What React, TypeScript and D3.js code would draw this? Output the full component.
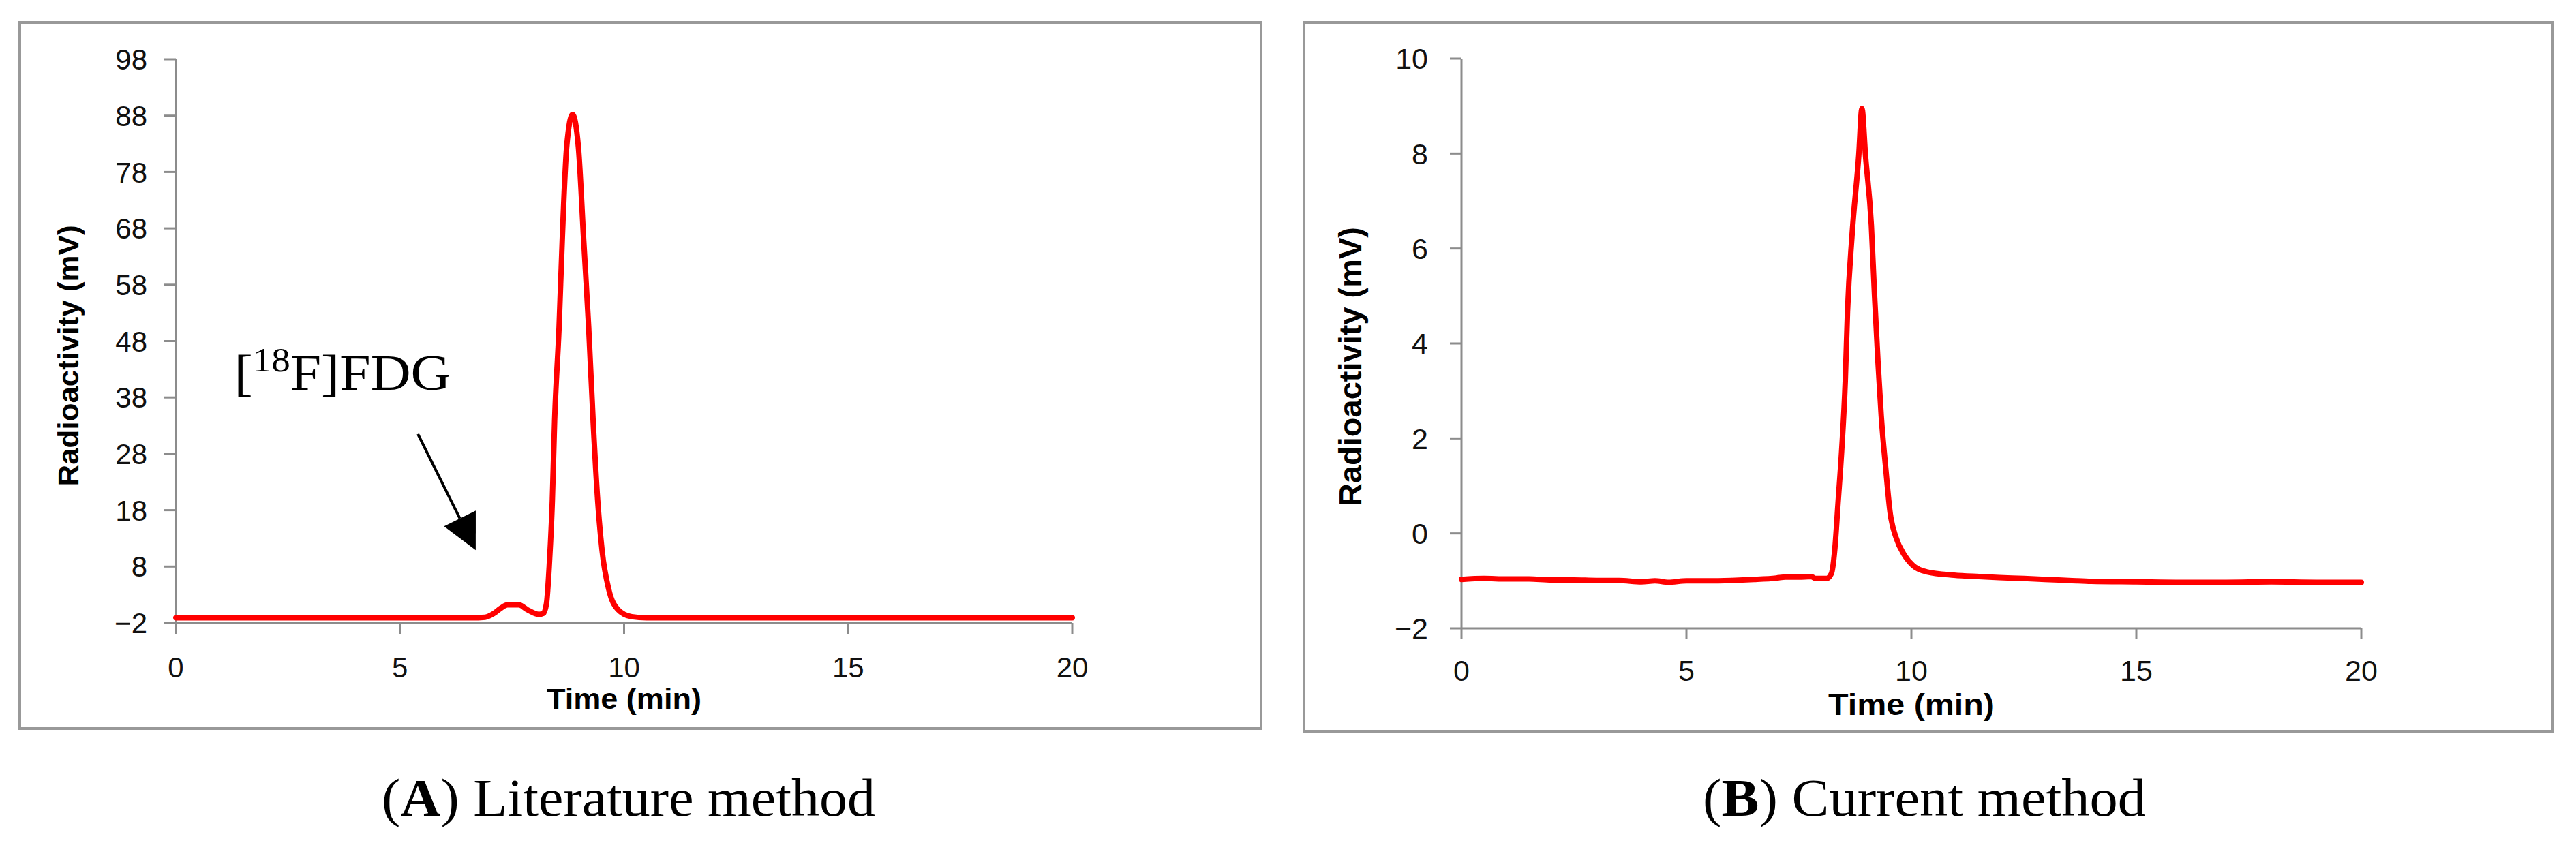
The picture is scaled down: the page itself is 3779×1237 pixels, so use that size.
import React from "react";
import * as d3 from "d3";

const W = 3779;
const H = 1237;

// (A) literature method, time in min, signal in mV
const timeA = [0, 6.6, 6.9, 7.1, 7.25, 7.4, 7.65, 7.85, 8.1, 8.2, 8.27, 8.33, 8.4, 8.45, 8.55, 8.62, 8.72, 8.85, 8.98, 9.1, 9.21, 9.31, 9.41, 9.51, 9.66, 9.86, 10.17, 10.5, 20];
const signalA = [-1.1, -1.1, -1.0, -0.3, 0.6, 1.2, 1.2, 0.3, -0.5, -0.3, 1.5, 8, 19.9, 33.8, 50.5, 65.8, 82.5, 88.2, 82.5, 65.8, 50.5, 33.8, 19.9, 10.8, 3.9, 0.4, -0.9, -1.1, -1.1];

// (B) current method
const timeB = [0, 0.5, 1, 1.5, 2, 2.5, 3, 3.5, 4, 4.3, 4.6, 5, 5.5, 6, 6.5, 7, 7.2, 7.5, 7.77, 7.87, 8.12, 8.22, 8.3, 8.37, 8.45, 8.53, 8.58, 8.68, 8.83, 8.9, 8.98, 9.11, 9.18, 9.26, 9.33, 9.43, 9.53, 9.66, 9.84, 10.04, 10.34, 10.95, 11.5, 11.95, 12.5, 12.97, 13.5, 14, 15, 16, 17, 18, 19, 20];
const signalB = [-0.97, -0.95, -0.96, -0.96, -0.98, -0.98, -0.99, -0.99, -1.02, -1.0, -1.03, -1.0, -1.0, -0.99, -0.97, -0.94, -0.92, -0.92, -0.91, -0.95, -0.95, -0.85, -0.31, 0.64, 1.74, 3.2, 4.67, 6.27, 7.96, 8.95, 7.96, 6.49, 5.03, 3.57, 2.47, 1.37, 0.42, -0.09, -0.45, -0.68, -0.81, -0.88, -0.91, -0.93, -0.95, -0.97, -0.99, -1.01, -1.02, -1.03, -1.03, -1.02, -1.03, -1.03];

const xTicks = [0, 5, 10, 15, 20];
const yTicksA = [-2, 8, 18, 28, 38, 48, 58, 68, 78, 88, 98];
const yTicksB = [-2, 0, 2, 4, 6, 8, 10];

// arrow pointing at the small [18F]FDG bump, in data units of panel A
const arrowFrom = [5.4, 31.5];
const arrowTo = [6.69, 10.9];
const labelAt = [1.3, 39.4];

const AXIS = "#8c8c8c";
const BORDER = "#999999";
const RED = "#ff0000";

const fmt = (v) => (v < 0 ? "\u2212" + Math.abs(v) : String(v));

const Panel = ({ box, plot, times, values, yDomain, yTicks, tickSize, yLab, timeLab, caption, children }) => {
  const x = d3.scaleLinear().domain([0, 20]).range([plot.left, plot.right]);
  const y = d3.scaleLinear().domain(yDomain).range([plot.bottom, plot.top]);
  const line = d3
    .line()
    .x((d) => x(d[0]))
    .y((d) => y(d[1]))
    .curve(d3.curveMonotoneX);
  const pts = times.map((t, i) => [t, values[i]]);

  return (
    <g>
      <rect x={box.x} y={box.y} width={box.w} height={box.h} fill="none" stroke={BORDER} strokeWidth={4} />

      {/* y axis */}
      <line x1={plot.left} x2={plot.left} y1={y(yDomain[0])} y2={y(yDomain[1])} stroke={AXIS} strokeWidth={3} />
      {yTicks.map((t) => (
        <g key={"y" + t}>
          <line x1={plot.left - 17} x2={plot.left} y1={y(t)} y2={y(t)} stroke={AXIS} strokeWidth={3} />
          <text
            x={plot.yLabelRight}
            y={y(t)}
            dy="0.36em"
            textAnchor="end"
            fontFamily="Liberation Sans, Arial, sans-serif"
            fontSize={tickSize}
            fill="#111"
          >
            {fmt(t)}
          </text>
        </g>
      ))}

      {/* x axis */}
      <line x1={x(0)} x2={x(20)} y1={plot.bottom} y2={plot.bottom} stroke={AXIS} strokeWidth={3} />
      {xTicks.map((t) => (
        <g key={"x" + t}>
          <line x1={x(t)} x2={x(t)} y1={plot.bottom} y2={plot.bottom + 16} stroke={AXIS} strokeWidth={3} />
          <text
            x={x(t)}
            y={plot.xLabelBase}
            textAnchor="middle"
            fontFamily="Liberation Sans, Arial, sans-serif"
            fontSize={tickSize}
            fill="#111"
          >
            {t}
          </text>
        </g>
      ))}

      <path d={line(pts)} fill="none" stroke={RED} strokeWidth={8} strokeLinejoin="round" strokeLinecap="round" />

      <text
        x={(plot.left + plot.right) / 2}
        y={timeLab.base}
        textAnchor="middle"
        fontFamily="Liberation Sans, Arial, sans-serif"
        fontWeight="bold"
        fontSize={timeLab.size}
        textLength={timeLab.len}
        lengthAdjust="spacingAndGlyphs"
      >
        Time (min)
      </text>
      <text
        transform={`translate(${yLab.x},${yLab.cy}) rotate(-90)`}
        textAnchor="middle"
        fontFamily="Liberation Sans, Arial, sans-serif"
        fontWeight="bold"
        fontSize={yLab.size}
        textLength={yLab.len}
        lengthAdjust="spacingAndGlyphs"
      >
        Radioactivity (mV)
      </text>

      <text
        x={caption.x}
        y={caption.base}
        fontFamily="Liberation Serif, Times New Roman, serif"
        fontSize={78}
        textLength={caption.len}
        lengthAdjust="spacingAndGlyphs"
      >
        (<tspan fontWeight="bold">{caption.letter}</tspan>) {caption.text}
      </text>

      {children && children(x, y)}
    </g>
  );
};

const Annotation = (x, y) => {
  const x1 = x(arrowFrom[0]);
  const y1 = y(arrowFrom[1]);
  const x2 = x(arrowTo[0]);
  const y2 = y(arrowTo[1]);
  const a = Math.atan2(y2 - y1, x2 - x1);
  const headLen = 52;
  const halfW = 26;
  const bx = x2 - headLen * Math.cos(a);
  const by = y2 - headLen * Math.sin(a);
  const px = -Math.sin(a) * halfW;
  const py = Math.cos(a) * halfW;
  return (
    <g>
      <line x1={x1} y1={y1} x2={bx} y2={by} stroke="#000" strokeWidth={4} />
      <polygon points={`${x2},${y2} ${bx + px},${by + py} ${bx - px},${by - py}`} fill="#000" />
      <text
        x={x(labelAt[0])}
        y={y(labelAt[1])}
        fontFamily="Liberation Serif, Times New Roman, serif"
        fontSize={74}
        textLength={318}
        lengthAdjust="spacingAndGlyphs"
      >
        [<tspan fontSize={50} dy={-27}>18</tspan>
        <tspan dy={27}>F]FDG</tspan>
      </text>
    </g>
  );
};

export default function App() {
  return (
    <svg width={W} height={H} style={{ position: "absolute", left: 0, top: 0, background: "#fff" }}>
      <rect width={W} height={H} fill="#fff" />
      <Panel
        box={{ x: 29, y: 33, w: 1821, h: 1036 }}
        plot={{ left: 258, right: 1573, top: 87, bottom: 914, yLabelRight: 216, xLabelBase: 994 }}
        times={timeA}
        values={signalA}
        yDomain={[-2, 98]}
        yTicks={yTicksA}
        tickSize={42}
        yLab={{ x: 115, cy: 522, size: 43, len: 383 }}
        timeLab={{ base: 1040, size: 42, len: 227 }}
        caption={{ x: 560, base: 1197, len: 724, letter: "A", text: "Literature method" }}
      >
        {Annotation}
      </Panel>
      <Panel
        box={{ x: 1913, y: 33, w: 1831, h: 1040 }}
        plot={{ left: 2144, right: 3464, top: 86, bottom: 922, yLabelRight: 2095, xLabelBase: 999 }}
        times={timeB}
        values={signalB}
        yDomain={[-2, 10]}
        yTicks={yTicksB}
        tickSize={43}
        yLab={{ x: 1997, cy: 538, size: 46, len: 410 }}
        timeLab={{ base: 1049, size: 44, len: 244 }}
        caption={{ x: 2498, base: 1197, len: 650, letter: "B", text: "Current method" }}
      />
    </svg>
  );
}
